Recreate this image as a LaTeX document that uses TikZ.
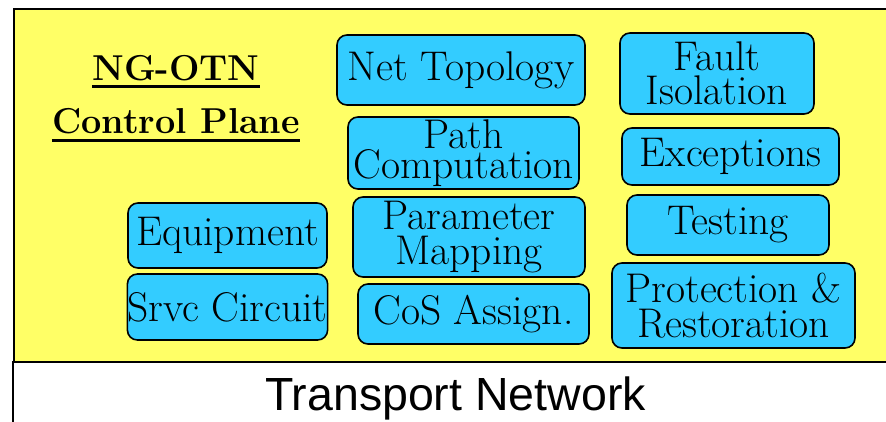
\documentclass[tikz,border=0pt]{standalone}
\usepackage{fontspec}
\newfontfamily\sansf{Liberation Sans}
\definecolor{planeyellow}{HTML}{FFFF66}
\definecolor{boxcyan}{HTML}{33CCFF}
\begin{document}
\begin{tikzpicture}[x=1pt,y=-1pt,
  fn/.style={draw=black, line width=1.6pt, fill=boxcyan, rounded corners=10pt,
    inner sep=0pt, align=center, text=black},
  oneline/.style={font=\rmfamily\fontsize{41.5}{34}\selectfont},
  tight/.style={font=\rmfamily\fontsize{41.5}{29}\selectfont},
  loose/.style={font=\rmfamily\fontsize{41.5}{34.5}\selectfont},
  title/.style={inner sep=0pt, anchor=base, font=\rmfamily\bfseries\fontsize{36}{36}\selectfont},
  uline/.style={line width=3pt}]
\useasboundingbox (0,0) rectangle (886,421);
\clip (0,0) rectangle (886,421);
% planes
\path[draw=black, line width=2.2pt, fill=planeyellow] (14,9) rectangle (900,362);
\path[draw=black, line width=1.6pt, fill=white] (13,362) rectangle (900,440);
\node[inner sep=0pt, anchor=base, font=\sansf\fontsize{46.5}{46.5}\selectfont] (tn) at (455.5,410) {Transport Network};
% title
\node[title] (t1) at (176,80) {NG-OTN};
\node[title] (t2) at (176,133) {Control Plane};
\draw[uline] ([yshift=-6.5pt]t1.base west) -- ([yshift=-6.5pt]t1.base east);
\draw[uline] ([yshift=-7.5pt]t2.base west) -- ([yshift=-7.5pt]t2.base east);
% boxes
\node[fn, oneline, minimum width=248pt, minimum height=70pt] (net) at (461,70) {Net Topology};
\node[fn, tight, minimum width=231pt, minimum height=72pt] (path) at (463.5,153) {Path\\Computation};
\node[fn, loose, minimum width=232pt, minimum height=80pt] (param) at (469,237) {Parameter\\Mapping};
\node[fn, oneline, minimum width=231pt, minimum height=60pt] (cos) at (473.5,314) {CoS Assign.};
\node[fn, oneline, minimum width=199pt, minimum height=65pt] (equip) at (227.5,235.5) {Equipment};
\node[fn, oneline, minimum width=199pt, minimum height=66pt] (srvc) at (227.5,307) {Srvc Circuit};
\node[fn, loose, minimum width=194pt, minimum height=81pt] (fault) at (717,73.5) {Fault\\Isolation};
\node[fn, oneline, minimum width=217pt, minimum height=57pt] (exc) at (730.5,156.5) {Exceptions};
\node[fn, oneline, minimum width=202pt, minimum height=60pt] (test) at (728,225) {Testing};
\node[fn, loose, minimum width=243pt, minimum height=85pt] (prot) at (733.5,305.5) {Protection \&\\Restoration};
\end{tikzpicture}
\end{document}
